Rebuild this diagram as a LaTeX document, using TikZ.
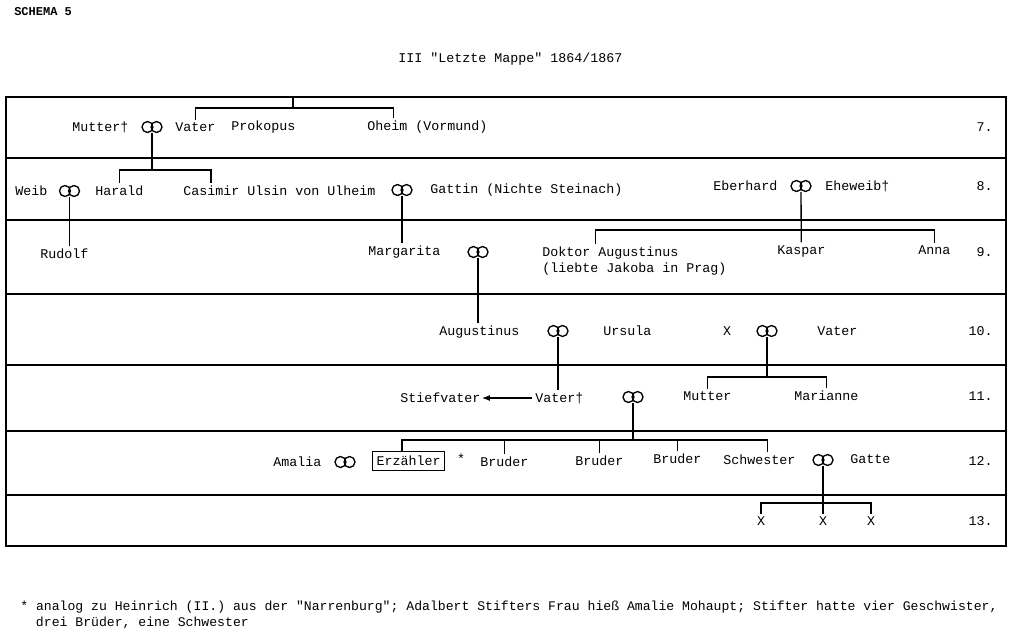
\documentclass[tikz,border=0pt]{standalone}
\usepackage{fontspec}
\setmonofont{Liberation Mono}
\usetikzlibrary{arrows.meta}

\tikzset{
  person/.style={anchor=west, inner xsep=0pt, inner ysep=2pt},
  ringbox/.style={minimum width=15pt, minimum height=8.3pt, inner sep=0pt},
  kin/.style={line width=1pt},
  rowline/.style={line width=0.9pt},
  rowno/.style={anchor=east, inner sep=0pt},
}

\begin{document}
\begin{tikzpicture}[x=0.75pt, y=-0.75pt, font=\ttfamily\fontsize{10}{12}\selectfont]
\useasboundingbox (0,0) rectangle (1027,633);

\node[person, font=\ttfamily\fontsize{9}{10}\selectfont\bfseries] (schema) at (14,12) {SCHEMA 5};
\node[person] (title) at (398,59) {III "Letzte Mappe" 1864/1867};

%% frame and generations
\draw[rowline] (6,97) rectangle (1006,546);
\foreach \y in {158,220,294,365,431,495}{
  \draw[rowline] (6,\y) -- (1006,\y);
}
\foreach \n/\y in {7/127,8/186,9/252,10/331,11/396,12/461,13/521}{
  \node[rowno] (gen\n) at (993,\y) {\n.};
}

%% marriage rings
\foreach \n/\x/\y in {rA/152/127, rB/69.5/191, rC/402/190, rD/801/186, rE/478/252,
                      rF/558/331, rG/767/331, rH/633/397, rI/345/462, rJ/823/460}{
  \node[ringbox] (\n) at (\x,\y) {};
  \draw[line width=1pt] ([xshift=-3.4pt]\n.center) circle (4.1pt)
                        ([xshift=3.4pt]\n.center) circle (4.1pt);
}

%% 7.
\node[person] (mutterA) at (72,127) {Mutter†};
\node[person] (vaterA) at (175,127) {Vater};
\node[person] (prokopus) at (231,127) {Prokopus};
\node[person] (oheim) at (367,127) {Oheim (Vormund)};

%% 8.
\node[person] (weib) at (15,191) {Weib};
\node[person] (harald) at (95,191) {Harald};
\node[person] (casimir) at (183,191) {Casimir Ulsin von Ulheim};
\node[person] (gattin) at (430,190) {Gattin (Nichte Steinach)};
\node[person] (eberhard) at (713,186) {Eberhard};
\node[person] (eheweib) at (825,186) {Eheweib†};

%% 9.
\node[person] (rudolf) at (40,254) {Rudolf};
\node[person] (margarita) at (368,252) {Margarita};
\node[person, anchor=north west, align=left] (doktor) at (542,244) {Doktor Augustinus\\(liebte Jakoba in Prag)};
\node[person] (kaspar) at (777,251) {Kaspar};
\node[person] (anna) at (918,250) {Anna};

%% 10.
\node[person] (augustinus) at (439,332) {Augustinus};
\node[person] (ursula) at (603,331) {Ursula};
\node[person, anchor=center] (xA) at (727,331) {X};
\node[person] (vaterB) at (817,331) {Vater};

%% 11.
\node[person] (stiefvater) at (400,398) {Stiefvater};
\node[person] (vaterC) at (535,398) {Vater†};
\node[person] (mutterB) at (683,396) {Mutter};
\node[person] (marianne) at (794,396) {Marianne};

%% 12.
\node[person] (amalia) at (273,462) {Amalia};
\node[draw, line width=1pt, anchor=west, inner xsep=3pt, minimum height=14pt] (erzaehler) at (372,461) {Erzähler};
\node[person, anchor=center] (stern) at (461,459) {*};
\node[person] (bruderA) at (480,462) {Bruder};
\node[person] (bruderB) at (575,461) {Bruder};
\node[person] (bruderC) at (653,459) {Bruder};
\node[person] (schwester) at (723,460) {Schwester};
\node[person] (gatte) at (850,459) {Gatte};

%% 13.
\node[person, anchor=center] (kindA) at (761,521) {X};
\node[person, anchor=center] (kindB) at (823,521) {X};
\node[person, anchor=center] (kindC) at (871,521) {X};

%% lines of descent
\coordinate (topA) at (293,97);
\coordinate (barA) at (293,108);
\draw[kin] (topA) -- (barA);
\draw[kin] (vaterA.north) |- (barA) -| ([xshift=20pt]oheim.north west);

\coordinate (barB) at (152,170);
\draw[kin] (rA.south) -- (barB);
\draw[kin] (harald.north) |- (barB) -| ([xshift=21pt]casimir.north west);

\draw[kin] (rB.south) -- (rB |- rudolf.north);
\draw[kin] (rC.south) -- (rC |- margarita.north);

\coordinate (barC) at (801,230);
\draw[kin] (rD.south) -- (kaspar.north);
\draw[kin] ([xshift=40pt]doktor.north west) |- (barC) -| (anna.north);

\draw[kin] (rE.south) -- (rE |- augustinus.north);
\draw[kin] (rF.south) -- (rF |- vaterC.north);

\coordinate (barD) at (767,377);
\draw[kin] (rG.south) -- (barD);
\draw[kin] (mutterB.north) |- (barD) -| (marianne.north);

\draw[line width=1pt, -{Latex[length=6pt, width=4.5pt]}, shorten <=2pt, shorten >=1pt] (vaterC.west) -- (stiefvater.east);

\coordinate (barE) at (633,440);
\draw[kin] (rH.south) -- (barE);
\draw[kin] ([xshift=-5pt]erzaehler.north) |- (barE) -| ([xshift=6pt]schwester.north);
\foreach \b in {bruderA, bruderB, bruderC}{
  \draw[kin] (\b.north) -- (\b.north |- barE);
}

\coordinate (barF) at (823,503);
\draw[kin] (rJ.south) -- (kindB.north);
\draw[kin] (kindA.north) |- (barF) -| (kindC.north);

%% footnote
\node[person, anchor=north west, align=left, font=\ttfamily\fontsize{9.85}{12}\selectfont] (fussnote) at (20,598) {* analog zu Heinrich (II.) aus der "Narrenburg"; Adalbert Stifters Frau hieß Amalie Mohaupt; Stifter hatte vier Geschwister,\\\hspace*{11.8pt}drei Brüder, eine Schwester};
\end{tikzpicture}
\end{document}
